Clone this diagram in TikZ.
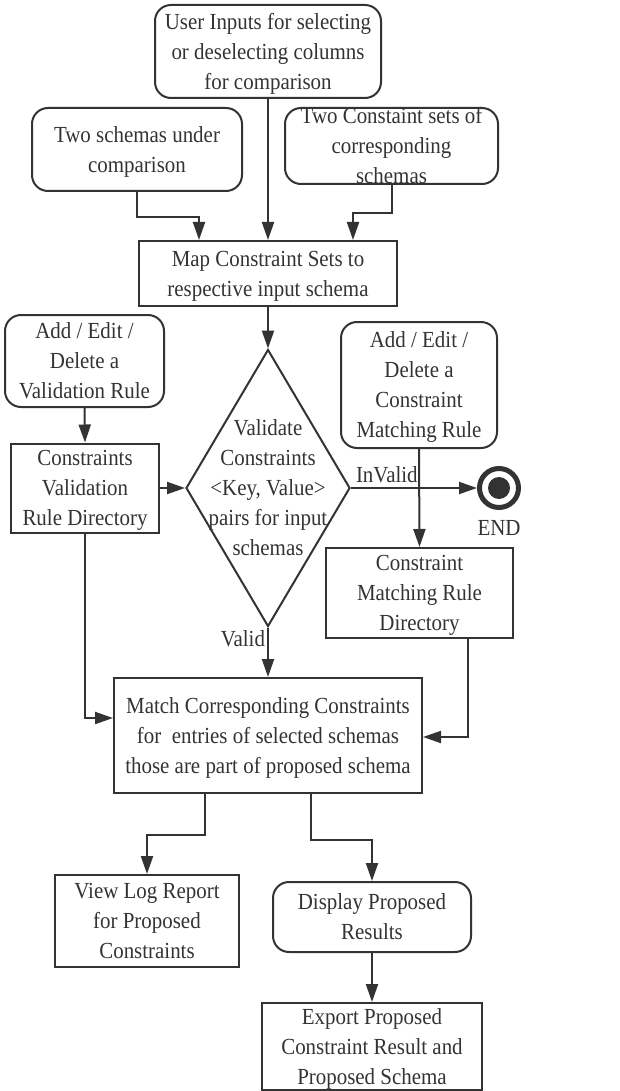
\documentclass[tikz,border=0pt]{standalone}
\usepackage{fontspec}
\setmainfont{Liberation Serif}[FakeStretch=0.91]
\usetikzlibrary{arrows.meta,calc,shapes.geometric}

\definecolor{ink}{HTML}{333333}
\newcommand{\dgfont}{\fontsize{23}{30}\selectfont}
% text of a box, kept out of the box size
\newcommand{\boxtxt}[1]{\makebox[0pt]{\raisebox{-0.34em}[0pt][0pt]{\begin{tabular}{@{}c@{}}#1\end{tabular}}}}

\begin{document}
\begin{tikzpicture}[x=1pt, y=-1pt,
  every node/.style={font=\dgfont, text=ink, inner sep=0pt},
  sbox/.style={draw=ink, line width=2pt},
  rbox/.style={sbox, rounded corners=16pt},
  decision/.style={diamond, draw=ink, line width=2pt, minimum width=164, minimum height=277},
  flow/.style={draw=ink, line width=2pt, -{Triangle[length=18pt,width=12pt]}}]

\useasboundingbox (0,0) rectangle (619,1091);

% inputs
\node[rbox, minimum width=226, minimum height=93] (userin) at (268,51.5)
  {\boxtxt{User Inputs for selecting\\or deselecting columns\\for comparison}};
\node[rbox, minimum width=210, minimum height=83] (schemas) at (137,149.5)
  {\boxtxt{Two schemas under\\comparison}};
\node[rbox, minimum width=213, minimum height=76] (csets) at (391.5,146)
  {\boxtxt{Two Constaint sets of\\corresponding\\schemas}};
\node[sbox, minimum width=258, minimum height=65] (mapbox) at (268,273.5)
  {\boxtxt{Map Constraint Sets to\\respective input schema}};

% validation
\node[decision] (check) at (268,488)
  {\boxtxt{Validate\\Constraints\\<Key, Value>\\pairs for input\\schemas}};
\node[rbox, minimum width=159, minimum height=92] (addval) at (84.5,361)
  {\boxtxt{Add / Edit /\\Delete a\\Validation Rule}};
\node[sbox, minimum width=148, minimum height=89] (valdir) at (85,488)
  {\boxtxt{Constraints\\Validation\\Rule Directory}};
\node[rbox, minimum width=156, minimum height=126] (addcm) at (419,385)
  {\boxtxt{Add / Edit /\\Delete a\\Constraint\\Matching Rule}};
\node[sbox, minimum width=187, minimum height=90] (cmdir) at (419.5,593)
  {\boxtxt{Constraint\\Matching Rule\\Directory}};
\node[circle, draw=ink, line width=5pt, minimum size=39,
  label={[inner sep=3pt, label distance=7pt]below:END}] (endc) at (499,488) {};
\fill[ink] (endc.center) circle (11pt);

% results
\node[sbox, minimum width=308, minimum height=115] (match) at (268,735.5)
  {\boxtxt{Match Corresponding Constraints\\for\ \ entries of selected schemas\\those are part of proposed schema}};
\node[sbox, minimum width=184, minimum height=92] (viewlog) at (147,921)
  {\boxtxt{View Log Report\\for Proposed\\Constraints}};
\node[rbox, minimum width=198, minimum height=70] (display) at (372,917)
  {\boxtxt{Display Proposed\\Results}};
\node[sbox, minimum width=220, minimum height=87] (export) at (372,1046.5)
  {\boxtxt{Export Proposed\\Constraint Result and\\Proposed Schema}};

% connectors
\draw[flow] (userin.south) -- (mapbox.north);
\draw[flow] (schemas.south) -- ++(0,25) -| ($(mapbox.north)+(-69,0)$);
\draw[flow] (csets.south) -- ++(0,28) -| ($(mapbox.north)+(85,0)$);
\draw[flow] (mapbox.south) -- (check.north);
\draw[flow] (addval.south) -- (valdir.north);
\draw[flow] (valdir.east) -- (check.west);
\draw[flow] (addcm.south) -- (cmdir.north);
\draw[flow] (check.east) -- (endc.west) node[pos=0, above right, inner sep=4pt] {InValid};
\draw[flow] (check.south) -- (match.north) node[pos=0, below left, inner sep=2pt] {Valid};
\draw[flow] (valdir.south) |- ($(match.west)+(0,-17.5)$);
\draw[flow] ($(cmdir.south)+(48.5,0)$) |- ($(match.east)+(0,1.5)$);
\draw[flow] ($(match.south)+(-63,0)$) -- ++(0,41) -| (viewlog.north);
\draw[flow] ($(match.south)+(43,0)$) -- ++(0,46) -| (display.north);
\draw[flow] (display.south) -- (export.north);

\end{tikzpicture}
\end{document}
